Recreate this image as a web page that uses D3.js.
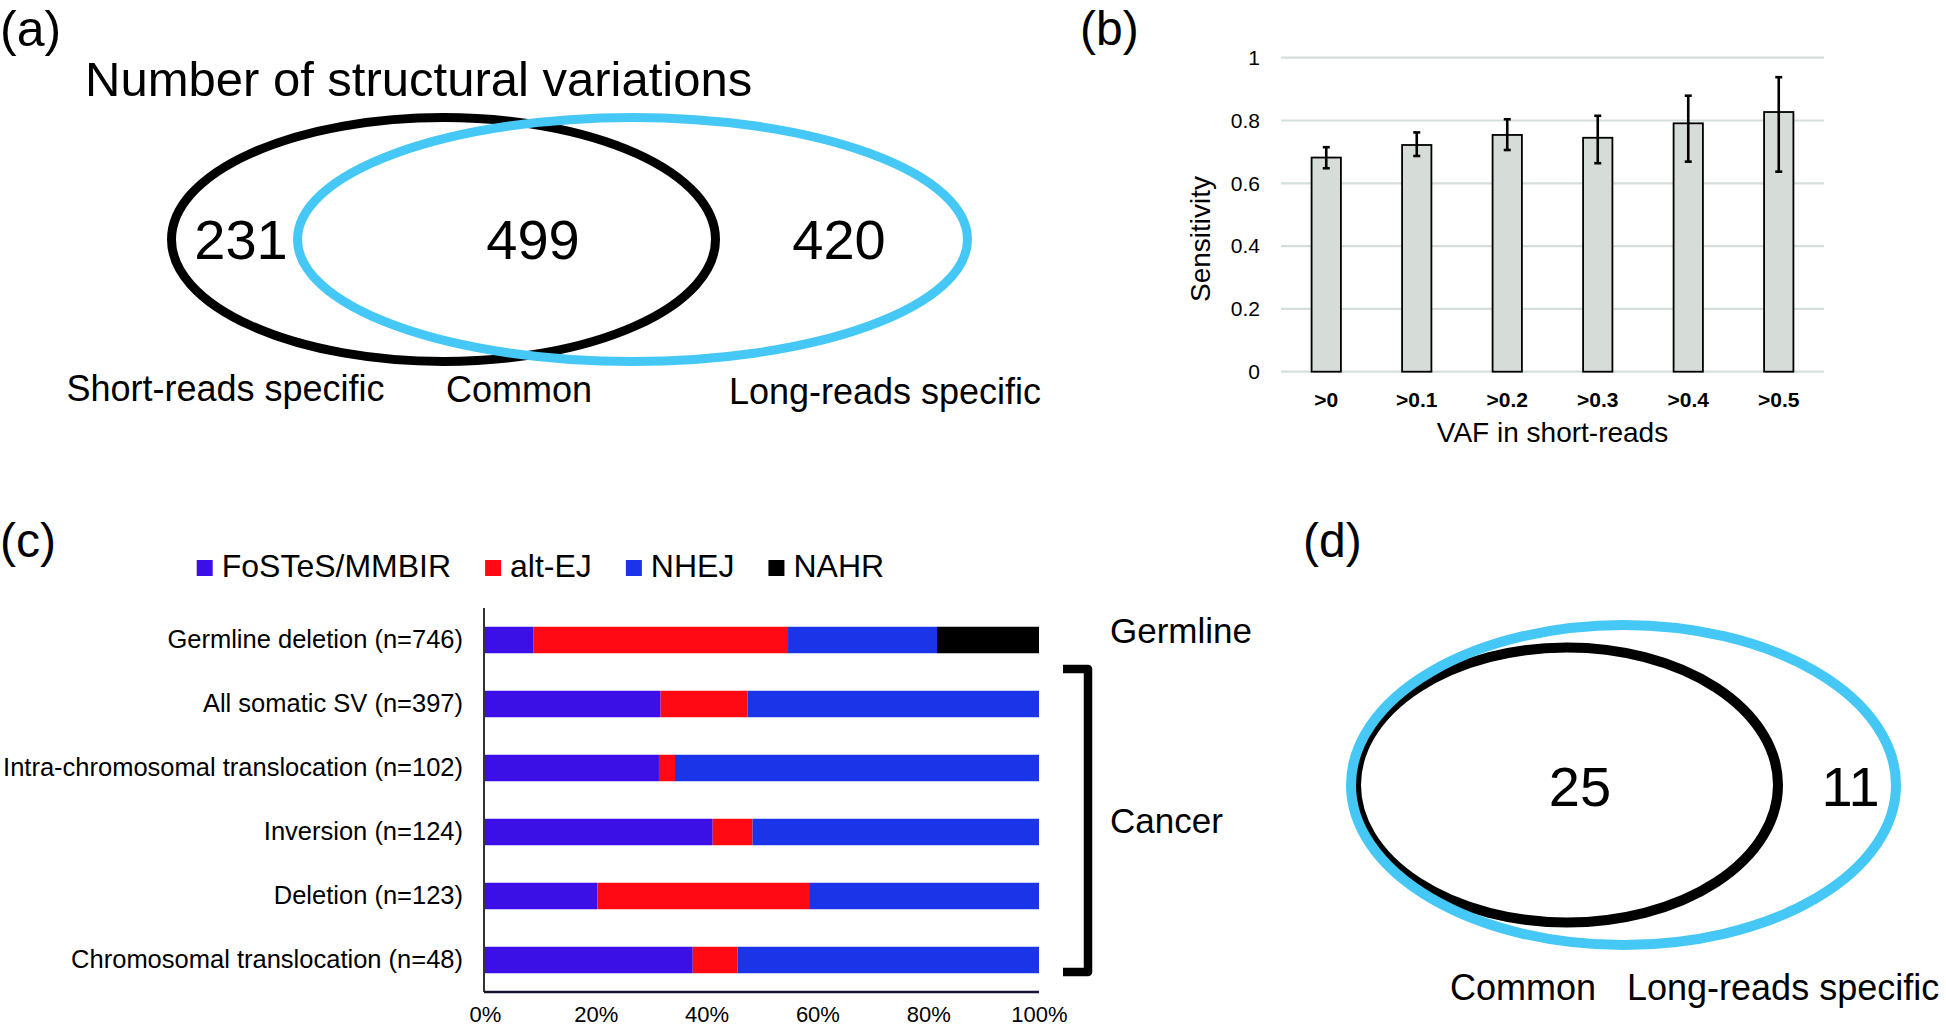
<!DOCTYPE html>
<html><head><meta charset="utf-8">
<script src="https://cdn.jsdelivr.net/npm/d3@7"></script>
<style>
html,body{margin:0;padding:0;background:#fff;}
svg{display:block;font-family:"Liberation Sans",Arial,Helvetica,sans-serif;}
</style></head><body>
<svg id="fig" width="1946" height="1027"></svg>
<script>
// ---------------- data ----------------
const vennACounts = [231, 499, 420];
const vennALabels = ["Short-reads specific", "Common", "Long-reads specific"];

const vafCategories = [">0", ">0.1", ">0.2", ">0.3", ">0.4", ">0.5"];
const sensitivity = [0.682, 0.722, 0.754, 0.745, 0.791, 0.827];
const ciLower = [0.648, 0.687, 0.706, 0.664, 0.669, 0.637];
const ciUpper = [0.715, 0.762, 0.804, 0.815, 0.879, 0.938];
const sensitivityTicks = [0, 0.2, 0.4, 0.6, 0.8, 1];

const svCategories = ["Germline deletion (n=746)", "All somatic SV (n=397)",
  "Intra-chromosomal translocation (n=102)", "Inversion (n=124)",
  "Deletion (n=123)", "Chromosomal translocation (n=48)"];
const mechanisms = ["FoSTeS/MMBIR", "alt-EJ", "NHEJ", "NAHR"];
const fostesPct = [8.7, 31.7, 31.4, 41.1, 20.3, 37.5];
const altEJPct = [46.0, 15.7, 2.9, 7.2, 38.2, 8.1];
const nhejPct = [26.9, 52.6, 65.7, 51.7, 41.5, 54.4];
const nahrPct = [18.4, 0, 0, 0, 0, 0];
const pctTicks = [0, 20, 40, 60, 80, 100];

const vennDCounts = [25, 11];
const vennDLabels = ["Common", "Long-reads specific"];

// ---------------- styles ----------------
const BLUE_RING = "#46c8f6";
const mechColors = ["#3a10e6", "#ff0a14", "#1b34e8", "#000000"];

const svg = d3.select("#fig");
svg.append("rect").attr("width", 1946).attr("height", 1027).attr("fill", "#fff");

function panelLabel(txt, x, y, fs) {
  svg.append("text").attr("x", x).attr("y", y).attr("font-size", fs).attr("fill", "#000").text(txt);
}

// ================= Panel (a) =================
panelLabel("(a)", 0, 46, 50);
const gA = svg.append("g");
gA.append("text").attr("x", 85).attr("y", 96).attr("font-size", 49).text("Number of structural variations");
gA.append("ellipse").attr("cx", 443.5).attr("cy", 239.5).attr("rx", 272).attr("ry", 122)
  .attr("fill", "none").attr("stroke", "#000").attr("stroke-width", 9);
gA.append("ellipse").attr("cx", 632.5).attr("cy", 239.5).attr("rx", 335).attr("ry", 122)
  .attr("fill", "none").attr("stroke", BLUE_RING).attr("stroke-width", 9);
const aNumX = [241, 533, 839];
gA.selectAll("text.num").data(vennACounts).join("text").attr("class", "num")
  .attr("x", (d, i) => aNumX[i]).attr("y", 259).attr("text-anchor", "middle")
  .attr("font-size", 56).text(d => d);
const aLabX = [225.5, 519, 885];
const aLabY = [401, 402, 404];
gA.selectAll("text.lab").data(vennALabels).join("text").attr("class", "lab")
  .attr("x", (d, i) => aLabX[i]).attr("y", (d, i) => aLabY[i]).attr("text-anchor", "middle")
  .attr("font-size", 36).text(d => d);

// ================= Panel (b) =================
panelLabel("(b)", 1080, 45, 48);
const gB = svg.append("g");
const xB = d3.scaleBand().domain(vafCategories).range([1281, 1824]).paddingInner(0.676).paddingOuter(0.338);
const yB = d3.scaleLinear().domain([0, 1]).range([371.7, 57.7]);

gB.selectAll("line.grid").data(sensitivityTicks).join("line").attr("class", "grid")
  .attr("x1", 1281).attr("x2", 1824).attr("y1", d => yB(d)).attr("y2", d => yB(d))
  .attr("stroke", "#d6deda").attr("stroke-width", 2.2);

const yAxisB = gB.append("g").attr("transform", "translate(1281,0)")
  .call(d3.axisLeft(yB).tickValues(sensitivityTicks).tickFormat(d3.format("")).tickSize(0).tickPadding(21));
yAxisB.select(".domain").remove();
yAxisB.selectAll("text").attr("font-size", 21).attr("font-family", "Liberation Sans, Arial, sans-serif").attr("fill", "#000");

gB.selectAll("rect.bar").data(sensitivity).join("rect").attr("class", "bar")
  .attr("x", (d, i) => xB(vafCategories[i])).attr("width", xB.bandwidth())
  .attr("y", d => yB(d)).attr("height", d => yB(0) - yB(d))
  .attr("fill", "#d6dcd7").attr("stroke", "#000").attr("stroke-width", 1.8);

const errG = gB.selectAll("g.err").data(vafCategories).join("g").attr("class", "err");
errG.append("line").attr("x1", d => xB(d) + xB.bandwidth() / 2).attr("x2", d => xB(d) + xB.bandwidth() / 2)
  .attr("y1", (d, i) => yB(ciUpper[i])).attr("y2", (d, i) => yB(ciLower[i]))
  .attr("stroke", "#000").attr("stroke-width", 2.6);
errG.append("line").attr("x1", d => xB(d) + xB.bandwidth() / 2 - 3.5).attr("x2", d => xB(d) + xB.bandwidth() / 2 + 3.5)
  .attr("y1", (d, i) => yB(ciUpper[i])).attr("y2", (d, i) => yB(ciUpper[i]))
  .attr("stroke", "#000").attr("stroke-width", 2.6);
errG.append("line").attr("x1", d => xB(d) + xB.bandwidth() / 2 - 3.5).attr("x2", d => xB(d) + xB.bandwidth() / 2 + 3.5)
  .attr("y1", (d, i) => yB(ciLower[i])).attr("y2", (d, i) => yB(ciLower[i]))
  .attr("stroke", "#000").attr("stroke-width", 2.6);

const xAxisB = gB.append("g").attr("transform", `translate(0,${yB(0)})`)
  .call(d3.axisBottom(xB).tickSize(0).tickPadding(20));
xAxisB.select(".domain").remove();
xAxisB.selectAll("text").attr("font-size", 21).attr("font-weight", "bold")
  .attr("font-family", "Liberation Sans, Arial, sans-serif").attr("fill", "#000");

gB.append("text").attr("x", 1552.5).attr("y", 442).attr("text-anchor", "middle")
  .attr("font-size", 28).text("VAF in short-reads");
gB.append("text").attr("transform", "translate(1210,239) rotate(-90)").attr("text-anchor", "middle")
  .attr("font-size", 28).text("Sensitivity");

// ================= Panel (c) =================
panelLabel("(c)", 0, 557, 48);
const gC = svg.append("g");
const xC = d3.scaleLinear().domain([0, 100]).range([485, 1039]);
const yC = d3.scaleBand().domain(svCategories).range([608, 992]).paddingInner(0.586).paddingOuter(0.293);

const table = svCategories.map((c, i) => ({
  cat: c, [mechanisms[0]]: fostesPct[i], [mechanisms[1]]: altEJPct[i],
  [mechanisms[2]]: nhejPct[i], [mechanisms[3]]: nahrPct[i]
}));
const stacked = d3.stack().keys(mechanisms)(table);

gC.selectAll("g.series").data(stacked).join("g").attr("class", "series")
  .attr("fill", (d, i) => mechColors[i])
  .selectAll("rect").data(d => d.filter(p => p[1] - p[0] > 0)).join("rect")
  .attr("x", d => xC(d[0])).attr("width", d => xC(d[1]) - xC(d[0]))
  .attr("y", d => yC(d.data.cat)).attr("height", yC.bandwidth());

// axes lines
gC.append("line").attr("x1", 484).attr("x2", 484).attr("y1", 608).attr("y2", 992)
  .attr("stroke", "#333").attr("stroke-width", 2);
gC.append("line").attr("x1", 484).attr("x2", 1039).attr("y1", 992).attr("y2", 992)
  .attr("stroke", "#141432").attr("stroke-width", 2.5);

const yAxisC = gC.append("g").attr("transform", "translate(485,0)")
  .call(d3.axisLeft(yC).tickSize(0).tickPadding(22));
yAxisC.select(".domain").remove();
yAxisC.selectAll("text").attr("font-size", 25.5).attr("font-family", "Liberation Sans, Arial, sans-serif").attr("fill", "#000");

const xAxisC = gC.append("g").attr("transform", "translate(0,992)")
  .call(d3.axisBottom(xC).tickValues(pctTicks).tickFormat(d => d + "%").tickSize(0).tickPadding(14));
xAxisC.select(".domain").remove();
xAxisC.selectAll("text").attr("font-size", 22).attr("font-family", "Liberation Sans, Arial, sans-serif").attr("fill", "#000");

// legend
let lx = 196.7;
mechanisms.forEach((m, i) => {
  gC.append("rect").attr("x", lx).attr("y", 560).attr("width", 16).attr("height", 16).attr("fill", mechColors[i]);
  const t = gC.append("text").attr("x", lx + 25).attr("y", 577).attr("font-size", 32).text(m);
  lx = lx + 25 + t.node().getComputedTextLength() + 34;
});

// group labels and bracket
gC.append("text").attr("x", 1110).attr("y", 643).attr("font-size", 35).text("Germline");
gC.append("text").attr("x", 1110).attr("y", 833).attr("font-size", 35).text("Cancer");
gC.append("path").attr("d", "M1063,669 H1088 V972 H1063").attr("fill", "none")
  .attr("stroke", "#000").attr("stroke-width", 8.5).attr("stroke-linejoin", "round");

// ================= Panel (d) =================
panelLabel("(d)", 1303, 557, 48);
const gD = svg.append("g");
gD.append("ellipse").attr("cx", 1567).attr("cy", 785).attr("rx", 211).attr("ry", 137.5)
  .attr("fill", "none").attr("stroke", "#000").attr("stroke-width", 10);
gD.append("ellipse").attr("cx", 1623.5).attr("cy", 785).attr("rx", 272.5).attr("ry", 160)
  .attr("fill", "none").attr("stroke", BLUE_RING).attr("stroke-width", 10);
const dNumX = [1580, 1850.6];
gD.selectAll("text.num").data(vennDCounts).join("text").attr("class", "num")
  .attr("x", (d, i) => dNumX[i]).attr("y", 806).attr("text-anchor", "middle")
  .attr("font-size", 56).text(d => d);
const dLabX = [1450, 1627];
gD.selectAll("text.lab").data(vennDLabels).join("text").attr("class", "lab")
  .attr("x", (d, i) => dLabX[i]).attr("y", 1000).attr("font-size", 36).text(d => d);
</script>
</body></html>
